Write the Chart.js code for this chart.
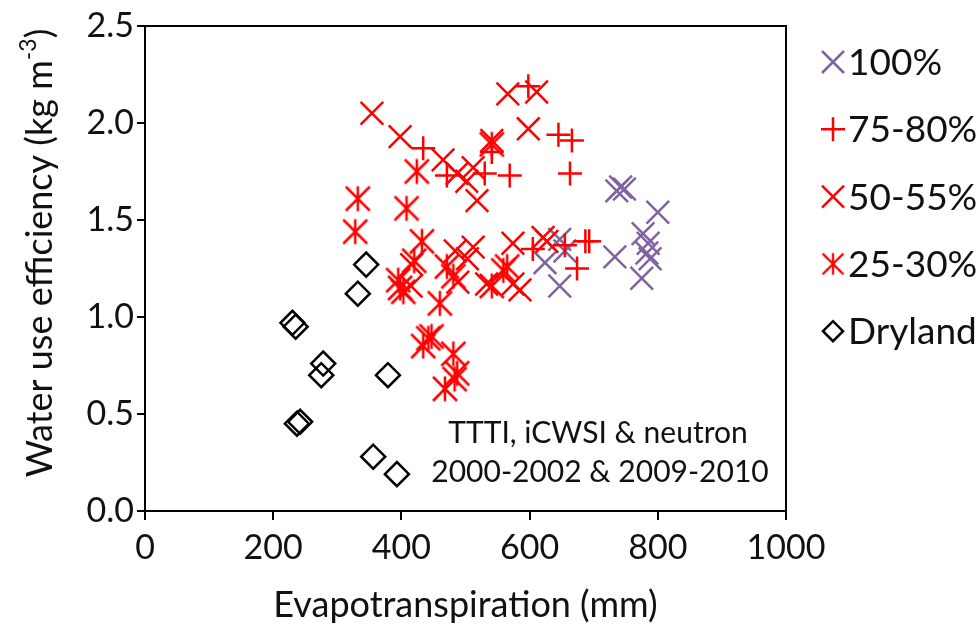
<!DOCTYPE html>
<html>
<head>
<meta charset="utf-8">
<script src="https://cdn.jsdelivr.net/npm/chart.js@4.4.1/dist/chart.umd.min.js"></script>
<style>
  html, body { margin: 0; background: #fff; }
</style>
</head>
<body>
<canvas id="c" width="980" height="637"></canvas>
<script>
// series names (legend order)
const seriesNames = ['100%', '75-80%', '50-55%', '25-30%', 'Dryland'];

// 100% irrigation
const et100  = [736, 742, 748, 800, 777, 785, 783, 733, 775, 647, 655, 647, 624, 788];
const wue100 = [1.65, 1.67, 1.66, 1.54, 1.43, 1.38, 1.33, 1.31, 1.20, 1.16, 1.34, 1.40, 1.28, 1.30];

// 75-80%
const et75  = [434, 471, 530, 541, 569, 598, 645, 666, 663, 655, 687, 693, 674, 605];
const wue75 = [1.87, 1.73, 1.74, 1.85, 1.73, 2.19, 1.94, 1.91, 1.74, 1.37, 1.39, 1.39, 1.25, 1.35];

// 50-55%
const et50  = [354, 398, 465, 487, 502, 518, 512, 566, 611, 598, 541, 416, 484, 512, 488, 533, 574, 574, 585, 621, 627, 503, 415];
const wue50 = [2.05, 1.93, 1.81, 1.74, 1.70, 1.60, 1.77, 2.15, 2.16, 1.97, 1.91, 1.27, 1.34, 1.36, 1.18, 1.17, 1.38, 1.17, 1.14, 1.41, 1.39, 1.30, 1.16];

// 25-30%
const et25  = [424, 332, 328, 408, 432, 398, 403, 395, 460, 471, 481, 541, 565, 559, 442, 434, 447, 481, 487, 483, 468, 541, 420];
const wue25 = [1.75, 1.61, 1.44, 1.56, 1.39, 1.15, 1.13, 1.19, 1.07, 1.26, 1.21, 1.16, 1.26, 1.24, 0.89, 0.85, 0.90, 0.81, 0.71, 0.68, 0.63, 1.89, 1.29];

// dryland
const etDry  = [345, 332, 230, 235, 278, 275, 379, 242, 237, 356, 393];
const wueDry = [1.27, 1.12, 0.97, 0.95, 0.76, 0.70, 0.70, 0.46, 0.45, 0.28, 0.19];

const xTicks = [0, 200, 400, 600, 800, 1000];
const yTicks = [0, 0.5, 1.0, 1.5, 2.0, 2.5];

const RED = '#ff0000';
const PURPLE = '#8064a2';
const FONT = 'Lato';

function pts(xs, ys) { return xs.map((x, i) => ({ x, y: ys[i] })); }

// six-armed asterisk marker (Excel style) as an image point style
function asterisk(color) {
  const c = document.createElement('canvas');
  c.width = 30; c.height = 30;
  const g = c.getContext('2d');
  g.strokeStyle = color; g.lineWidth = 2.5; g.lineCap = 'butt';
  g.beginPath();
  g.moveTo(15, 2.5); g.lineTo(15, 27.5);
  g.moveTo(3, 3); g.lineTo(27, 27);
  g.moveTo(27, 3); g.lineTo(3, 27);
  g.stroke();
  return c;
}
const starImg = asterisk(RED);

const datasets = [
  { label: seriesNames[0], data: pts(et100, wue100), pointStyle: 'crossRot', pointRadius: 16, borderColor: PURPLE, backgroundColor: PURPLE, pointBorderWidth: 2.5, order: 5 },
  { label: seriesNames[1], data: pts(et75, wue75), pointStyle: 'cross', pointRadius: 12, borderColor: RED, backgroundColor: RED, pointBorderWidth: 2.5, order: 2 },
  { label: seriesNames[2], data: pts(et50, wue50), pointStyle: 'crossRot', pointRadius: 16, borderColor: RED, backgroundColor: RED, pointBorderWidth: 2.5, order: 3 },
  { label: seriesNames[3], data: pts(et25, wue25), pointStyle: starImg, pointRadius: 13, borderColor: RED, backgroundColor: RED, pointBorderWidth: 2.5, order: 4 },
  { label: seriesNames[4], data: pts(etDry, wueDry), pointStyle: 'rectRot', pointRadius: 12, borderColor: '#000', backgroundColor: 'rgba(0,0,0,0)', pointBorderWidth: 2.5, order: 1 }
];

// frame around plot, y title with superscript, note text, side legend
const extras = {
  id: 'extras',
  beforeDatasetsDraw(chart) {
    const { ctx, chartArea: a } = chart;
    ctx.save();
    ctx.strokeStyle = '#000';
    ctx.lineWidth = 2;
    ctx.strokeRect(a.left, a.top, a.right - a.left, a.bottom - a.top);
    ctx.restore();
  },
  afterDraw(chart) {
    const { ctx, chartArea: a } = chart;
    ctx.save();
    ctx.fillStyle = '#111';

    // y title
    ctx.save();
    ctx.translate(40, 253);
    ctx.rotate(-Math.PI / 2);
    const t1 = 'Water use efficiency (kg m', t2 = '-3', t3 = ')';
    ctx.font = `36px ${FONT}`;
    const w1 = ctx.measureText(t1).width, w3 = ctx.measureText(t3).width;
    ctx.font = `23px ${FONT}`;
    const w2 = ctx.measureText(t2).width;
    let x = -(w1 + w2 + w3) / 2;
    ctx.textBaseline = 'middle';
    ctx.textAlign = 'left';
    ctx.font = `36px ${FONT}`;
    ctx.fillText(t1, x, 0); x += w1;
    ctx.font = `23px ${FONT}`;
    ctx.fillText(t2, x, -11); x += w2;
    ctx.font = `36px ${FONT}`;
    ctx.fillText(t3, x, 0);
    ctx.restore();

    // note
    ctx.font = `30px ${FONT}`;
    ctx.textAlign = 'center';
    ctx.textBaseline = 'middle';
    ctx.fillText('TTTI, iCWSI & neutron', 598, 433);
    ctx.fillText('2000-2002 & 2009-2010', 600, 472);

    // legend
    chart.data.datasets.forEach((ds, i) => {
      const mx = a.right + 47, my = a.top + 36 + i * 67.3;
      ctx.save();
      ctx.strokeStyle = ds.borderColor;
      ctx.lineWidth = 2.5;
      const r = 11;
      ctx.beginPath();
      if (ds.pointStyle === 'crossRot') {
        ctx.moveTo(mx - r, my - r); ctx.lineTo(mx + r, my + r);
        ctx.moveTo(mx + r, my - r); ctx.lineTo(mx - r, my + r);
        ctx.stroke();
      } else if (ds.pointStyle === 'cross') {
        ctx.moveTo(mx - 12, my); ctx.lineTo(mx + 12, my);
        ctx.moveTo(mx, my - 12); ctx.lineTo(mx, my + 12);
        ctx.stroke();
      } else if (ds.pointStyle === 'rectRot') {
        ctx.moveTo(mx - 10, my); ctx.lineTo(mx, my - 10);
        ctx.lineTo(mx + 10, my); ctx.lineTo(mx, my + 10);
        ctx.closePath();
        ctx.stroke();
      } else {
        ctx.drawImage(ds.pointStyle, mx - 13, my - 13, 26, 26);
      }
      ctx.restore();
      ctx.font = `37px ${FONT}`;
      ctx.textAlign = 'left';
      ctx.textBaseline = 'middle';
      ctx.fillText(ds.label, mx + 15, my + 1);
    });
    ctx.restore();
  }
};

new Chart(document.getElementById('c'), {
  type: 'scatter',
  data: { datasets },
  options: {
    responsive: false,
    devicePixelRatio: 1,
    animation: false,
    layout: { padding: { top: 26, right: 194, bottom: 0, left: 0 } },
    plugins: { legend: { display: false }, tooltip: { enabled: false } },
    scales: {
      x: {
        type: 'linear', min: 0, max: 1000,
        afterBuildTicks: s => { s.ticks = xTicks.map(v => ({ value: v })); },
        afterFit: s => { s.height = 126; },
        ticks: { font: { family: FONT, size: 34 }, color: '#111', padding: 8, callback: v => String(v) },
        grid: { drawOnChartArea: false, drawTicks: true, tickLength: 9, color: '#000', lineWidth: 2 },
        border: { display: true, color: '#000', width: 2 },
        title: { display: true, text: 'Evapotranspiration (mm)', font: { family: FONT, size: 36 }, color: '#111', padding: { top: 0, bottom: 10 } }
      },
      y: {
        type: 'linear', min: 0, max: 2.5,
        afterBuildTicks: s => { s.ticks = yTicks.map(v => ({ value: v })); },
        afterFit: s => { s.width = 145; },
        ticks: { font: { family: FONT, size: 34 }, color: '#111', padding: 3, callback: v => v.toFixed(1) },
        grid: { drawOnChartArea: false, drawTicks: true, tickLength: 8, color: '#000', lineWidth: 2 },
        border: { display: true, color: '#000', width: 2 }
      }
    }
  },
  plugins: [extras]
});
</script>
</body>
</html>
